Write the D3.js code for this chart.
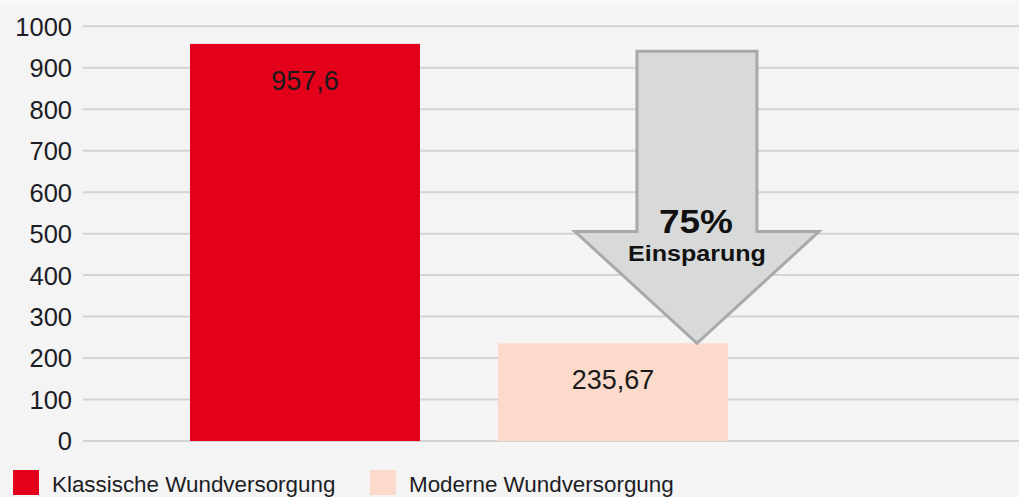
<!DOCTYPE html>
<html><head><meta charset="utf-8">
<script src="https://cdn.jsdelivr.net/npm/d3@7"></script>
<style>html,body{margin:0;padding:0;background:#f4f4f4;}svg{display:block;font-family:Arial,"Liberation Sans",sans-serif;}</style>
</head><body>
<svg id="chart" width="1019" height="497"></svg>
<script>
const categories = ["Klassische Wundversorgung", "Moderne Wundversorgung"];
const values = [957.6, 235.67];
const valueLabels = ["957,6", "235,67"];
const yTicks = [0, 100, 200, 300, 400, 500, 600, 700, 800, 900, 1000];
const savingLabels = ["75%", "Einsparung"];
const arrowFrom = 940;
const arrowHeadBase = 505;

const colors = ["#e2001a", "#fbdacb"];
const W = 1019, H = 497;
const svg = d3.select("#chart");

svg.append("rect").attr("width", W).attr("height", H).attr("fill", "#f4f4f4");
svg.append("rect").attr("width", W).attr("height", 4).attr("fill", "#f8f8f8");

const y = d3.scaleLinear().domain([0, 1000]).range([441, 26.3]);
const x = d3.scaleBand().domain(categories).range([151, 767]).paddingInner(0.2532).paddingOuter(0.1266);

// grid
svg.append("g").selectAll("line").data(yTicks).join("line")
  .attr("x1", 83).attr("x2", W)
  .attr("y1", d => y(d)).attr("y2", d => y(d))
  .attr("stroke", "#d3d3d3").attr("stroke-width", 2);

// y axis labels
const yAxis = d3.axisLeft(y).tickValues(yTicks).tickSize(0).tickPadding(0).tickFormat(d3.format("d"));
const ga = svg.append("g").attr("transform", "translate(72,0)").call(yAxis);
ga.select(".domain").remove();
ga.selectAll("text").attr("font-size", 25.5).attr("fill", "#1c1c24")
  .attr("font-family", "Arial, 'Liberation Sans', sans-serif").attr("dy", "0.35em");

// bars
svg.append("g").selectAll("rect").data(categories).join("rect")
  .attr("x", d => x(d)).attr("width", x.bandwidth())
  .attr("y", (d, i) => y(values[i])).attr("height", (d, i) => y(0) - y(values[i]))
  .attr("fill", (d, i) => colors[i]);

svg.append("g").selectAll("text").data(categories).join("text")
  .attr("x", d => x(d) + x.bandwidth() / 2)
  .attr("y", (d, i) => y(values[i]) + 46)
  .attr("text-anchor", "middle").attr("font-size", 27).attr("fill", "#1a1a1a")
  .text((d, i) => valueLabels[i]);

// arrow
const cx = x(categories[1]) + x.bandwidth() * 0.865;
const shaftHalf = 60, headHalf = 122;
const topY = y(arrowFrom), baseY = y(arrowHeadBase), tipY = y(values[1]);
const pts = [[cx - shaftHalf, topY], [cx + shaftHalf, topY], [cx + shaftHalf, baseY], [cx + headHalf, baseY],
  [cx, tipY], [cx - headHalf, baseY], [cx - shaftHalf, baseY]];
svg.append("path").attr("d", d3.line()(pts) + "Z")
  .attr("fill", "#d8dada").attr("stroke", "#a8aaaa").attr("stroke-width", 3).attr("stroke-linejoin", "miter");

svg.append("text").attr("x", cx - 1).attr("y", 233).attr("text-anchor", "middle")
  .attr("font-size", 34).attr("font-weight", "bold").attr("fill", "#111")
  .attr("textLength", 74).attr("lengthAdjust", "spacingAndGlyphs").text(savingLabels[0]);
svg.append("text").attr("x", cx).attr("y", 261).attr("text-anchor", "middle")
  .attr("font-size", 21.5).attr("font-weight", "bold").attr("fill", "#111")
  .attr("textLength", 138).attr("lengthAdjust", "spacingAndGlyphs").text(savingLabels[1]);

// legend
const legendX = [13, 370];
const lg = svg.append("g").selectAll("g").data(categories).join("g")
  .attr("transform", (d, i) => `translate(${legendX[i]},470)`);
lg.append("rect").attr("width", 26).attr("height", 25).attr("fill", (d, i) => colors[i]);
lg.append("text").attr("x", 39).attr("y", 22).attr("font-size", 22.4).attr("fill", "#1c1c24").text(d => d);
</script>
</body></html>
